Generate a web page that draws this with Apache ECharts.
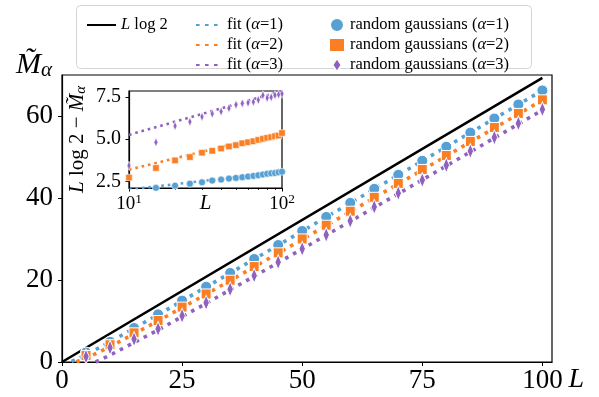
<!DOCTYPE html>
<html>
<head>
<meta charset="utf-8">
<script src="https://cdn.jsdelivr.net/npm/echarts@6/dist/echarts.min.js"></script>
<style>
  html, body { margin: 0; padding: 0; background: #fff; }
  #chart { width: 599px; height: 397px; }
</style>
</head>
<body>
<div id="chart"></div>
<script>
// main panel: sizes L and the measured M~ values
const L_MAIN = [5, 10, 15, 20, 25, 30, 35, 40, 45, 50, 55, 60, 65, 70, 75, 80, 85, 90, 95, 100]
const M1 = [2.3, 4.93, 8.29, 11.62, 14.97, 18.35, 21.72, 25.13, 28.53, 31.96, 35.38, 38.81, 42.23, 45.66, 49.08, 52.5, 55.95, 59.39, 62.82, 66.24]
const M2 = [1.6, 4.21, 7.11, 10.12, 13.39, 16.59, 19.95, 23.28, 26.62, 30.01, 33.36, 36.77, 40.17, 43.56, 46.96, 50.37, 53.8, 57.2, 60.63, 63.94]
const M3 = [1.3, 3.5, 5.58, 8.07, 11.29, 14.45, 17.74, 21.08, 24.34, 27.61, 30.99, 34.42, 37.83, 41.18, 44.36, 47.99, 51.42, 54.76, 58.19, 61.61]

// L log 2 reference line
const LINE_L = [0, 100]
const LINE_M = [0, 69.31]

// fit curves in the main panel
const FIT_L1 = [2, 4, 6, 8, 10, 20, 30, 40, 50, 60, 70, 80, 90, 100]
const FIT_M1 = [0.13, 1.2, 2.4, 3.65, 4.93, 11.54, 18.28, 25.08, 31.91, 38.76, 45.61, 52.48, 59.36, 66.24]
const FIT_L2 = [3, 4, 6, 8, 10, 20, 30, 40, 50, 60, 70, 80, 90, 100]
const FIT_M2 = [0.06, 0.47, 1.47, 2.57, 3.74, 10.0, 16.53, 23.19, 29.9, 36.66, 43.44, 50.24, 57.05, 63.88]
const FIT_L3 = [7, 8, 10, 20, 30, 40, 50, 60, 70, 80, 90, 100]
const FIT_M3 = [0.0, 0.54, 1.67, 7.82, 14.29, 20.9, 27.57, 34.3, 41.05, 47.83, 54.63, 61.44]

// inset: L log 2 - M~ on a log L axis
const L_INSET = [10, 15, 20, 25, 30, 35, 40, 45, 50, 55, 60, 65, 70, 75, 80, 85, 90, 95, 100]
const D1 = [2.0, 2.11, 2.24, 2.36, 2.44, 2.54, 2.6, 2.66, 2.7, 2.74, 2.78, 2.82, 2.86, 2.9, 2.95, 2.97, 2.99, 3.03, 3.07]
const D2 = [2.72, 3.29, 3.74, 3.94, 4.2, 4.31, 4.45, 4.57, 4.65, 4.76, 4.82, 4.88, 4.96, 5.02, 5.08, 5.12, 5.18, 5.22, 5.37]
const D3 = [3.43, 4.82, 5.79, 6.04, 6.34, 6.52, 6.65, 6.85, 7.05, 7.13, 7.17, 7.22, 7.34, 7.62, 7.46, 7.5, 7.62, 7.66, 7.7]
const FIT_INSET_L = [10, 100]
const FIT_D1 = [2.0, 3.08]
const FIT_D2 = [3.19, 5.43]
const FIT_D3 = [5.26, 7.87]

const X_TICKS = [0, 25, 50, 75, 100]
const Y_TICKS = [0, 20, 40, 60]
const INSET_Y_TICKS = [2.5, 5.0, 7.5]
const INSET_X_TICKS = [10, 100]
const INSET_X_MINOR = [20, 30, 40, 50, 60, 70, 80, 90]

const COLORS = ['#56a0d3', '#fa7f24', '#8f62bf']
const SERIF = 'Liberation Serif'
const DIAMOND = 'path://M0,-10 L6.5,0 L0,10 L-6.5,0 Z'

const zip = (xs, ys) => xs.map((x, i) => [x, ys[i]])
const mathName = (s) => s.replace('α', '{i|α}').replace(/^L /, '{i|L} ')

const richText = (size) => ({
  i: { fontFamily: SERIF, fontStyle: 'italic', fontSize: size, color: '#000' },
  sup: { fontFamily: SERIF, fontSize: size * 0.7, verticalAlign: 'top', padding: [0, 0, size * 0.5, 0], color: '#000' },
  m: { fontFamily: SERIF, fontStyle: 'italic', fontSize: size, color: '#000' },
  s: { fontFamily: SERIF, fontStyle: 'italic', fontSize: size * 0.7, padding: [size * 0.35, 0, 0, 0], color: '#000' },
})

const chart = echarts.init(document.getElementById('chart'), null, { renderer: 'canvas' })

const dotted = (w) => ({ width: w, type: [w, w * 1.5], cap: 'butt' })

const fitSeries = (name, data, i, xi, w, z) => ({
  name, type: 'line', xAxisIndex: xi, yAxisIndex: xi, data,
  symbol: 'none', z, silent: true,
  lineStyle: { color: COLORS[i], ...dotted(w) },
  itemStyle: { color: COLORS[i] },
})

const markers = [
  { symbol: 'circle', main: 11, inset: 7 },
  { symbol: 'rect', main: 10, inset: 6.5 },
  { symbol: DIAMOND, main: [10, 15], inset: [6, 9] },
]

const pointSeries = (name, data, i, xi, z) => ({
  name, type: 'scatter', xAxisIndex: xi, yAxisIndex: xi, data, z,
  symbol: markers[i].symbol,
  symbolSize: xi === 0 ? markers[i].main : markers[i].inset,
  symbolKeepAspect: true,
  itemStyle: { color: COLORS[i], borderColor: '#fff', borderWidth: xi === 0 ? 1 : 0.6, opacity: 1 },
  emphasis: { disabled: true },
})

const legendBase = {
  top: 11, orient: 'vertical', itemGap: 2, itemHeight: 14, z: 20,
  selectedMode: false,
  formatter: mathName,
  textStyle: { fontFamily: SERIF, fontSize: 16.5, lineHeight: 18, color: '#000', rich: richText(16.5) },
}
// line legends: hide the round marker that echarts puts on line icons
const lineLegend = { itemStyle: { color: 'rgba(0,0,0,0)', borderWidth: 0 } }

chart.setOption({
  animation: false,
  textStyle: { fontFamily: SERIF },
  graphic: [{
    type: 'rect', z: 15,
    shape: { x: 76.5, y: 5.5, width: 455, height: 63, r: 4 },
    style: { fill: 'rgba(255,255,255,0.9)', stroke: '#d4d4d4', lineWidth: 1 },
  }],
  legend: [
    { ...legendBase, ...lineLegend, left: 81, itemWidth: 29, data: ['L log 2'] },
    { ...legendBase, ...lineLegend, left: 190, itemWidth: 26, data: ['fit (α=1)', 'fit (α=2)', 'fit (α=3)'] },
    { ...legendBase, left: 323, itemWidth: 16, data: ['random gaussians (α=1)', 'random gaussians (α=2)', 'random gaussians (α=3)'] },
  ],
  grid: [
    { left: 62, top: 75, width: 490, height: 287, show: true, borderColor: '#000', borderWidth: 1.2, z: 0 },
    { left: 129, top: 91, width: 153, height: 97, show: true, backgroundColor: '#fff', borderColor: '#000', borderWidth: 1.2, z: 10 },
  ],
  xAxis: [
    {
      type: 'value', gridIndex: 0, min: 0, max: 102,
      name: 'L', nameLocation: 'end', nameGap: 8,
      nameTextStyle: { fontFamily: SERIF, fontStyle: 'italic', fontSize: 28, color: '#000', verticalAlign: 'top', padding: [4, 0, 0, 0] },
      axisLine: { lineStyle: { color: '#000', width: 1.2 } },
      axisTick: { length: 4, customValues: X_TICKS, lineStyle: { color: '#000' } },
      axisLabel: { customValues: X_TICKS, fontFamily: SERIF, fontSize: 27, color: '#000', margin: 5 },
      splitLine: { show: false },
    },
    {
      type: 'log', logBase: 10, gridIndex: 1, min: 10, max: 100, z: 11,
      name: 'L', nameLocation: 'middle', nameGap: 5, nameMoveOverlap: false,
      nameTextStyle: { fontFamily: SERIF, fontStyle: 'italic', fontSize: 21, color: '#000', verticalAlign: 'top' },
      axisLine: { lineStyle: { color: '#000', width: 1.2 } },
      axisTick: { length: 3.5, customValues: INSET_X_TICKS, lineStyle: { color: '#000' } },
      axisLabel: {
        customValues: INSET_X_TICKS, fontFamily: SERIF, fontSize: 19, color: '#000', margin: 5,
        formatter: (v) => '10{sup|' + Math.round(Math.log10(v)) + '}', rich: richText(19),
      },
      splitLine: { show: false },
    },
    {
      // minor ticks of the inset log axis, moved down onto its bottom edge
      type: 'log', logBase: 10, gridIndex: 1, min: 10, max: 100, z: 11,
      position: 'top', offset: -97,
      axisLine: { show: false },
      axisTick: { inside: true, length: 2, customValues: INSET_X_MINOR, lineStyle: { color: '#000', width: 0.8 } },
      axisLabel: { show: false },
      splitLine: { show: false },
    },
  ],
  yAxis: [
    {
      type: 'value', gridIndex: 0, min: 0, max: 70,
      name: '{m|M\u0303}{s|α}', nameLocation: 'end', nameGap: -6,
      nameTextStyle: { align: 'right', verticalAlign: 'bottom', padding: [0, 10, 0, 0], rich: richText(30) },
      axisLine: { lineStyle: { color: '#000', width: 1.2 } },
      axisTick: { length: 4, customValues: Y_TICKS, lineStyle: { color: '#000' } },
      axisLabel: { customValues: Y_TICKS, fontFamily: SERIF, fontSize: 27, color: '#000', margin: 9 },
      splitLine: { show: false },
    },
    {
      type: 'value', gridIndex: 1, min: 2.1, max: 7.87, z: 11,
      name: '{i|L} log 2 − {m|M\u0303}{s|α}', nameLocation: 'middle', nameGap: 40, nameRotate: 90,
      nameTextStyle: { fontFamily: SERIF, fontSize: 21, color: '#000', rich: richText(21) },
      axisLine: { lineStyle: { color: '#000', width: 1.2 } },
      axisTick: { length: 3.5, customValues: INSET_Y_TICKS, lineStyle: { color: '#000' } },
      axisLabel: { customValues: INSET_Y_TICKS, fontFamily: SERIF, fontSize: 20, color: '#000', margin: 8, formatter: (v) => v.toFixed(1) },
      splitLine: { show: false },
    },
  ],
  series: [
    {
      name: 'L log 2', type: 'line', data: zip(LINE_L, LINE_M), symbol: 'none', z: 3,
      lineStyle: { color: '#000', width: 2.6 }, itemStyle: { color: '#000' },
    },
    fitSeries('fit (α=1)', zip(FIT_L1, FIT_M1), 0, 0, 3.6, 2),
    fitSeries('fit (α=2)', zip(FIT_L2, FIT_M2), 1, 0, 3.6, 2),
    fitSeries('fit (α=3)', zip(FIT_L3, FIT_M3), 2, 0, 3.6, 2),
    pointSeries('random gaussians (α=1)', zip(L_MAIN, M1), 0, 0, 4),
    pointSeries('random gaussians (α=2)', zip(L_MAIN, M2), 1, 0, 5),
    pointSeries('random gaussians (α=3)', zip(L_MAIN, M3), 2, 0, 6),
    fitSeries('inset fit 1', zip(FIT_INSET_L, FIT_D1), 0, 1, 2.6, 12),
    fitSeries('inset fit 2', zip(FIT_INSET_L, FIT_D2), 1, 1, 2.6, 12),
    fitSeries('inset fit 3', zip(FIT_INSET_L, FIT_D3), 2, 1, 2.6, 12),
    pointSeries('inset points 1', zip(L_INSET, D1), 0, 1, 13),
    pointSeries('inset points 2', zip(L_INSET, D2), 1, 1, 14),
    pointSeries('inset points 3', zip(L_INSET, D3), 2, 1, 15),
  ],
})
</script>
</body>
</html>
